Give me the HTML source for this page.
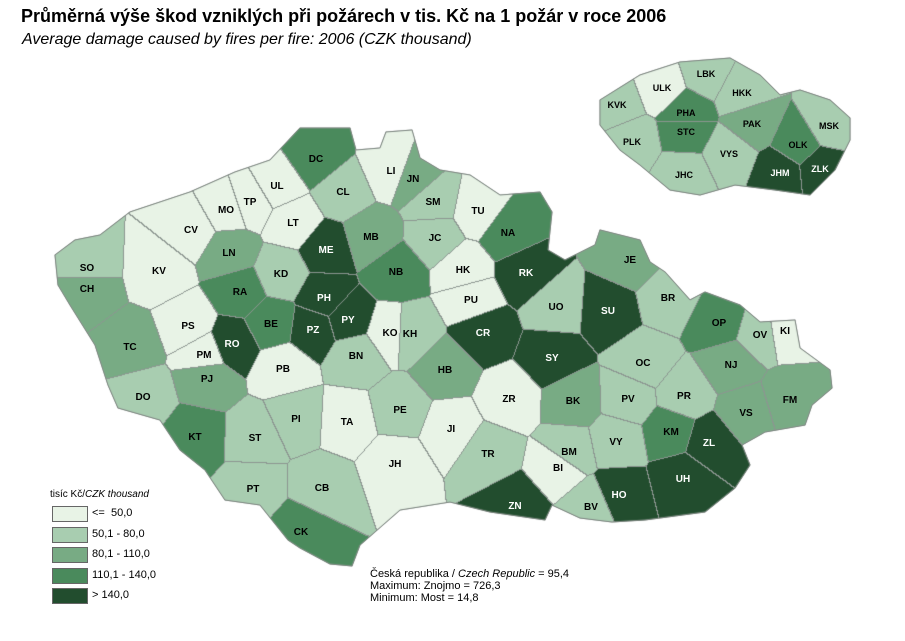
<!DOCTYPE html>
<html><head><meta charset="utf-8"><style>
body{margin:0;background:#fff;width:905px;height:641px;overflow:hidden;position:relative;font-family:"Liberation Sans",sans-serif}
#t1{position:absolute;left:21px;top:6px;font-weight:bold;font-size:18px;color:#000}
#t2{position:absolute;left:22px;top:31px;font-style:italic;font-size:16px;color:#000}
canvas{position:absolute;left:0;top:0}
svg{position:absolute;left:0;top:0}
.lg{position:absolute;left:52px;width:34px;height:14px;border:1px solid #666}
.lt{position:absolute;left:92px;font-size:11px}
.st{position:absolute;left:370px;font-size:11px;line-height:12px}
</style></head><body>
<div id="t1">Průměrná výše škod vzniklých při požárech v tis. Kč na 1 požár v roce 2006</div>
<div id="t2">Average damage caused by fires per fire: 2006 (CZK thousand)</div>
<svg width="905" height="641" id="fb"></svg>
<canvas id="c" width="905" height="641"></canvas>
<svg width="905" height="641" id="lab" font-family="Liberation Sans,sans-serif" font-size="10" font-weight="bold" text-anchor="middle"></svg>
<div style="position:absolute;left:50px;top:489px;font-size:10px">tisíc Kč/<i>CZK thousand</i></div>
<div class="lg" style="top:506px;background:#e8f3e6"></div><div class="lt" style="top:507px">&lt;=&nbsp; 50,0</div>
<div class="lg" style="top:527px;background:#a8cdb0"></div><div class="lt" style="top:528px">50,1 - 80,0</div>
<div class="lg" style="top:547px;background:#78ab84"></div><div class="lt" style="top:548px">80,1 - 110,0</div>
<div class="lg" style="top:568px;background:#4a8a5c"></div><div class="lt" style="top:569px">110,1 - 140,0</div>
<div class="lg" style="top:588px;background:#224d2e"></div><div class="lt" style="top:589px">&gt; 140,0</div>
<div class="st" style="top:568px">Česká republika / <i>Czech Republic</i> = 95,4<br>Maximum: Znojmo = 726,3<br>Minimum: Most = 14,8</div>
<script>
var C=["#e8f3e6","#a8cdb0","#78ab84","#4a8a5c","#224d2e"];
var M=[["DC",3,316,158],["LI",0,391,170],["JN",2,413,178],["UL",0,277,185],["CL",1,343,191],["MO",0,226,209],["TP",0,250,201],["SM",1,433,201],["TU",0,478,210],["CV",0,191,229],["LT",0,293,222],["MB",2,371,236],["JC",1,435,237],["NA",3,508,232],["ME",4,326,249],["LN",2,229,252],["SO",1,87,267],["KV",0,159,270],["KD",1,281,273],["NB",3,396,271],["HK",0,463,269],["RK",4,526,272],["JE",2,630,259],["CH",2,87,288],["RA",3,240,291],["PH",4,324,297],["PU",0,471,299],["BR",1,668,297],["PY",4,348,319],["BE",3,271,323],["PZ",4,313,329],["PS",0,188,325],["KO",0,390,332],["UO",1,556,306],["SU",4,608,310],["CR",4,483,332],["KH",1,410,333],["OP",3,719,322],["OV",1,760,334],["KI",0,785,330],["RO",4,232,343],["TC",2,130,346],["PM",0,204,354],["BN",1,356,355],["SY",4,552,357],["OC",1,643,362],["NJ",2,731,364],["FM",2,790,399],["PB",0,283,368],["PJ",2,207,378],["HB",2,445,369],["ZR",0,509,398],["PR",1,684,395],["DO",1,143,396],["BK",2,573,400],["PV",1,628,398],["VS",2,746,412],["PI",1,296,418],["TA",0,347,421],["PE",1,400,409],["KT",3,195,436],["ST",1,255,437],["JI",0,451,428],["KM",3,671,431],["ZL",4,709,442],["VY",1,616,441],["BM",1,569,451],["TR",1,488,453],["BI",0,558,467],["JH",0,395,463],["UH",4,683,478],["CB",1,322,487],["PT",1,253,488],["HO",4,619,494],["ZN",4,515,505],["BV",1,591,506],["CK",3,301,531]];
var I=[["ULK",0,662,87],["LBK",1,706,73],["HKK",1,742,92],["KVK",1,617,104],["PHA",3,686,112],["STC",3,686,131],["PAK",2,752,123],["PLK",1,632,141],["VYS",1,729,153],["OLK",3,798,144],["MSK",1,829,125],["JHC",1,684,174],["JHM",4,780,172],["ZLK",4,820,168]];
var O1=[[55,255],[75,240],[100,235],[130,212],[190,192],[235,172],[270,160],[300,128],[350,128],[356,150],[380,148],[386,132],[412,130],[420,158],[440,170],[470,175],[500,195],[540,192],[552,212],[548,250],[565,260],[595,245],[600,230],[640,240],[650,262],[665,272],[690,300],[705,292],[740,305],[760,322],[795,320],[800,348],[830,370],[832,388],[812,405],[805,425],[765,432],[742,445],[750,465],[735,488],[705,512],[645,520],[612,522],[580,518],[552,505],[545,520],[490,512],[450,502],[400,510],[360,545],[352,566],[330,564],[300,548],[288,540],[260,505],[225,500],[205,470],[180,450],[160,420],[118,408],[108,385],[95,345],[70,305],[58,285]];
var O2=[[600,100],[640,75],[680,62],[730,58],[760,75],[780,95],[800,90],[830,100],[850,118],[850,140],[835,170],[810,195],[775,190],[735,185],[700,195],[670,190],[640,165],[620,150],[600,125]];
function pts(o){return o.map(function(p){return p.join(",")}).join(" ")}
var fb=document.getElementById("fb");
fb.innerHTML='<polygon points="'+pts(O1)+'" fill="#a8cdb0" stroke="#888"/><polygon points="'+pts(O2)+'" fill="#a8cdb0" stroke="#888"/>';
var lab=document.getElementById("lab"),s="";
M.concat(I).forEach(function(d){s+='<text x="'+d[2]+'" y="'+(d[3]+4)+'" fill="'+(d[1]==4?"#fff":"#000")+'" font-size="'+(d[0].length==3?9:10)+'">'+d[0]+'</text>';});
lab.innerHTML=s;
var cv=document.getElementById("c"),ctx=cv.getContext("2d");
var W=905,H=641;
function hex(h){return[parseInt(h.substr(1,2),16),parseInt(h.substr(3,2),16),parseInt(h.substr(5,2),16)]}
var RC=C.map(hex);
function vor(list,oc){
 var off=document.createElement("canvas");off.width=W;off.height=H;var oc2=off.getContext("2d");
 var im=oc2.createImageData(W,H),d=im.data,idx=new Int16Array(W*H).fill(-1);
 var x0=1e9,x1=0,y0=1e9,y1=0;oc.forEach(function(p){x0=Math.min(x0,p[0]);x1=Math.max(x1,p[0]);y0=Math.min(y0,p[1]);y1=Math.max(y1,p[1]);});
 for(var y=y0;y<=y1;y++)for(var x=x0;x<=x1;x++){var b=-1,bd=1e12;for(var k=0;k<list.length;k++){var dx=x-list[k][2],dy=y-list[k][3],q=dx*dx+dy*dy;if(q<bd){bd=q;b=k;}}idx[y*W+x]=b;}
 for(var y=y0;y<=y1;y++)for(var x=x0;x<=x1;x++){var i=y*W+x,k=idx[i];var c=RC[list[k][1]];
  if((x+1<W&&idx[i+1]!=k)||(y+1<H&&idx[i+W]!=k))c=[140,150,145];
  d[i*4]=c[0];d[i*4+1]=c[1];d[i*4+2]=c[2];d[i*4+3]=255;}
 oc2.putImageData(im,0,0);
 ctx.save();ctx.beginPath();oc.forEach(function(p,i){i?ctx.lineTo(p[0],p[1]):ctx.moveTo(p[0],p[1]);});ctx.closePath();ctx.clip();ctx.drawImage(off,0,0);ctx.restore();
 ctx.beginPath();oc.forEach(function(p,i){i?ctx.lineTo(p[0],p[1]):ctx.moveTo(p[0],p[1]);});ctx.closePath();ctx.strokeStyle="#8a948e";ctx.lineWidth=1;ctx.stroke();
}
vor(M,O1);vor(I,O2);
</script>
</body></html>
